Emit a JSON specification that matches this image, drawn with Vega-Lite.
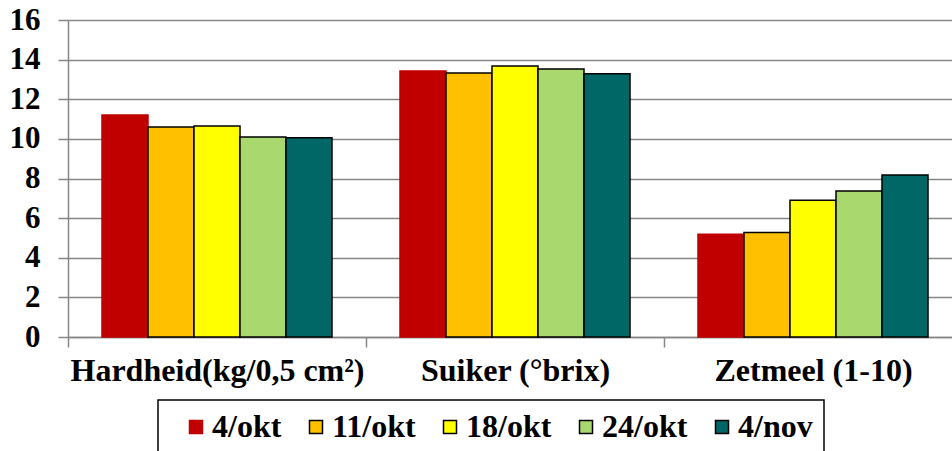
{
  "$schema": "https://vega.github.io/schema/vega-lite/v6.json",
  "autosize": "none",
  "padding": {"left": 68, "top": 20, "right": 0, "bottom": 114},
  "width": 894,
  "height": 317,
  "background": "white",
  "data": {"values": [
    {"cat": "Hardheid(kg/0,5 cm²)", "date": "4/okt", "value": 11.2},
    {"cat": "Hardheid(kg/0,5 cm²)", "date": "11/okt", "value": 10.6},
    {"cat": "Hardheid(kg/0,5 cm²)", "date": "18/okt", "value": 10.65},
    {"cat": "Hardheid(kg/0,5 cm²)", "date": "24/okt", "value": 10.1},
    {"cat": "Hardheid(kg/0,5 cm²)", "date": "4/nov", "value": 10.06},
    {"cat": "Suiker (°brix)", "date": "4/okt", "value": 13.43},
    {"cat": "Suiker (°brix)", "date": "11/okt", "value": 13.33},
    {"cat": "Suiker (°brix)", "date": "18/okt", "value": 13.68},
    {"cat": "Suiker (°brix)", "date": "24/okt", "value": 13.53},
    {"cat": "Suiker (°brix)", "date": "4/nov", "value": 13.29},
    {"cat": "Zetmeel (1-10)", "date": "4/okt", "value": 5.18},
    {"cat": "Zetmeel (1-10)", "date": "11/okt", "value": 5.27},
    {"cat": "Zetmeel (1-10)", "date": "18/okt", "value": 6.9},
    {"cat": "Zetmeel (1-10)", "date": "24/okt", "value": 7.37},
    {"cat": "Zetmeel (1-10)", "date": "4/nov", "value": 8.18}
  ]},
  "config": {
    "view": {"stroke": null},
    "font": "Liberation Serif"
  },
  "mark": {"type": "bar", "strokeWidth": 1.5},
  "encoding": {
    "x": {
      "field": "cat", "type": "nominal", "sort": null, "title": null,
      "scale": {"paddingInner": 0, "paddingOuter": 0},
      "axis": {
        "labelAngle": 0, "labelFont": "Liberation Serif", "labelFontSize": 32, "labelFontWeight": "bold",
        "labelColor": "black", "labelPadding": 8, "labelLimit": 0, "labelOverlap": false,
        "tickBand": "extent", "tickSize": 10,
        "tickColor": "#868686", "tickWidth": 1.5, "domainColor": "#868686", "domainWidth": 1.5,
        "grid": false
      }
    },
    "xOffset": {
      "field": "date", "type": "nominal", "sort": ["4/okt", "11/okt", "18/okt", "24/okt", "4/nov"],
      "scale": {"paddingInner": 0, "paddingOuter": 0.739}
    },
    "y": {
      "field": "value", "type": "quantitative", "title": null,
      "scale": {"domain": [0, 16], "nice": false},
      "axis": {
        "values": [0, 2, 4, 6, 8, 10, 12, 14, 16],
        "labelFont": "Liberation Serif", "labelFontSize": 31, "labelFontWeight": "bold", "labelColor": "black",
        "labelPadding": 18, "tickSize": 10, "tickColor": "#868686", "tickWidth": 1.5,
        "domainColor": "#868686", "domainWidth": 1.5,
        "grid": true, "gridColor": "#868686", "gridWidth": 1.5
      }
    },
    "color": {
      "field": "date", "type": "nominal", "sort": ["4/okt", "11/okt", "18/okt", "24/okt", "4/nov"],
      "scale": {"domain": ["4/okt", "11/okt", "18/okt", "24/okt", "4/nov"], "range": ["#C00000", "#FFC000", "#FFFF00", "#A9D86E", "#006666"]},
      "legend": {
        "title": "\u00a0", "titleOrient": "left", "titlePadding": 11, "titleFontSize": 4,
        "orient": "none", "direction": "horizontal", "legendX": 90, "legendY": 380,
        "columns": 5, "columnPadding": 18, "symbolType": "square", "symbolSize": 169,
        "labelFont": "Liberation Serif", "labelFontSize": 32, "labelFontWeight": "bold", "labelColor": "black",
        "labelOffset": 0, "labelLimit": 0, "strokeColor": "black", "padding": 11,
        "symbolOpacity": 1,
        "encode": {"legend": {"update": {"strokeWidth": {"value": 1.5}}}}
      }
    },
    "stroke": {
      "field": "date", "type": "nominal", "sort": ["4/okt", "11/okt", "18/okt", "24/okt", "4/nov"],
      "scale": {"domain": ["4/okt", "11/okt", "18/okt", "24/okt", "4/nov"], "range": ["#C00000", "black", "black", "black", "black"]}
    }
  }
}
